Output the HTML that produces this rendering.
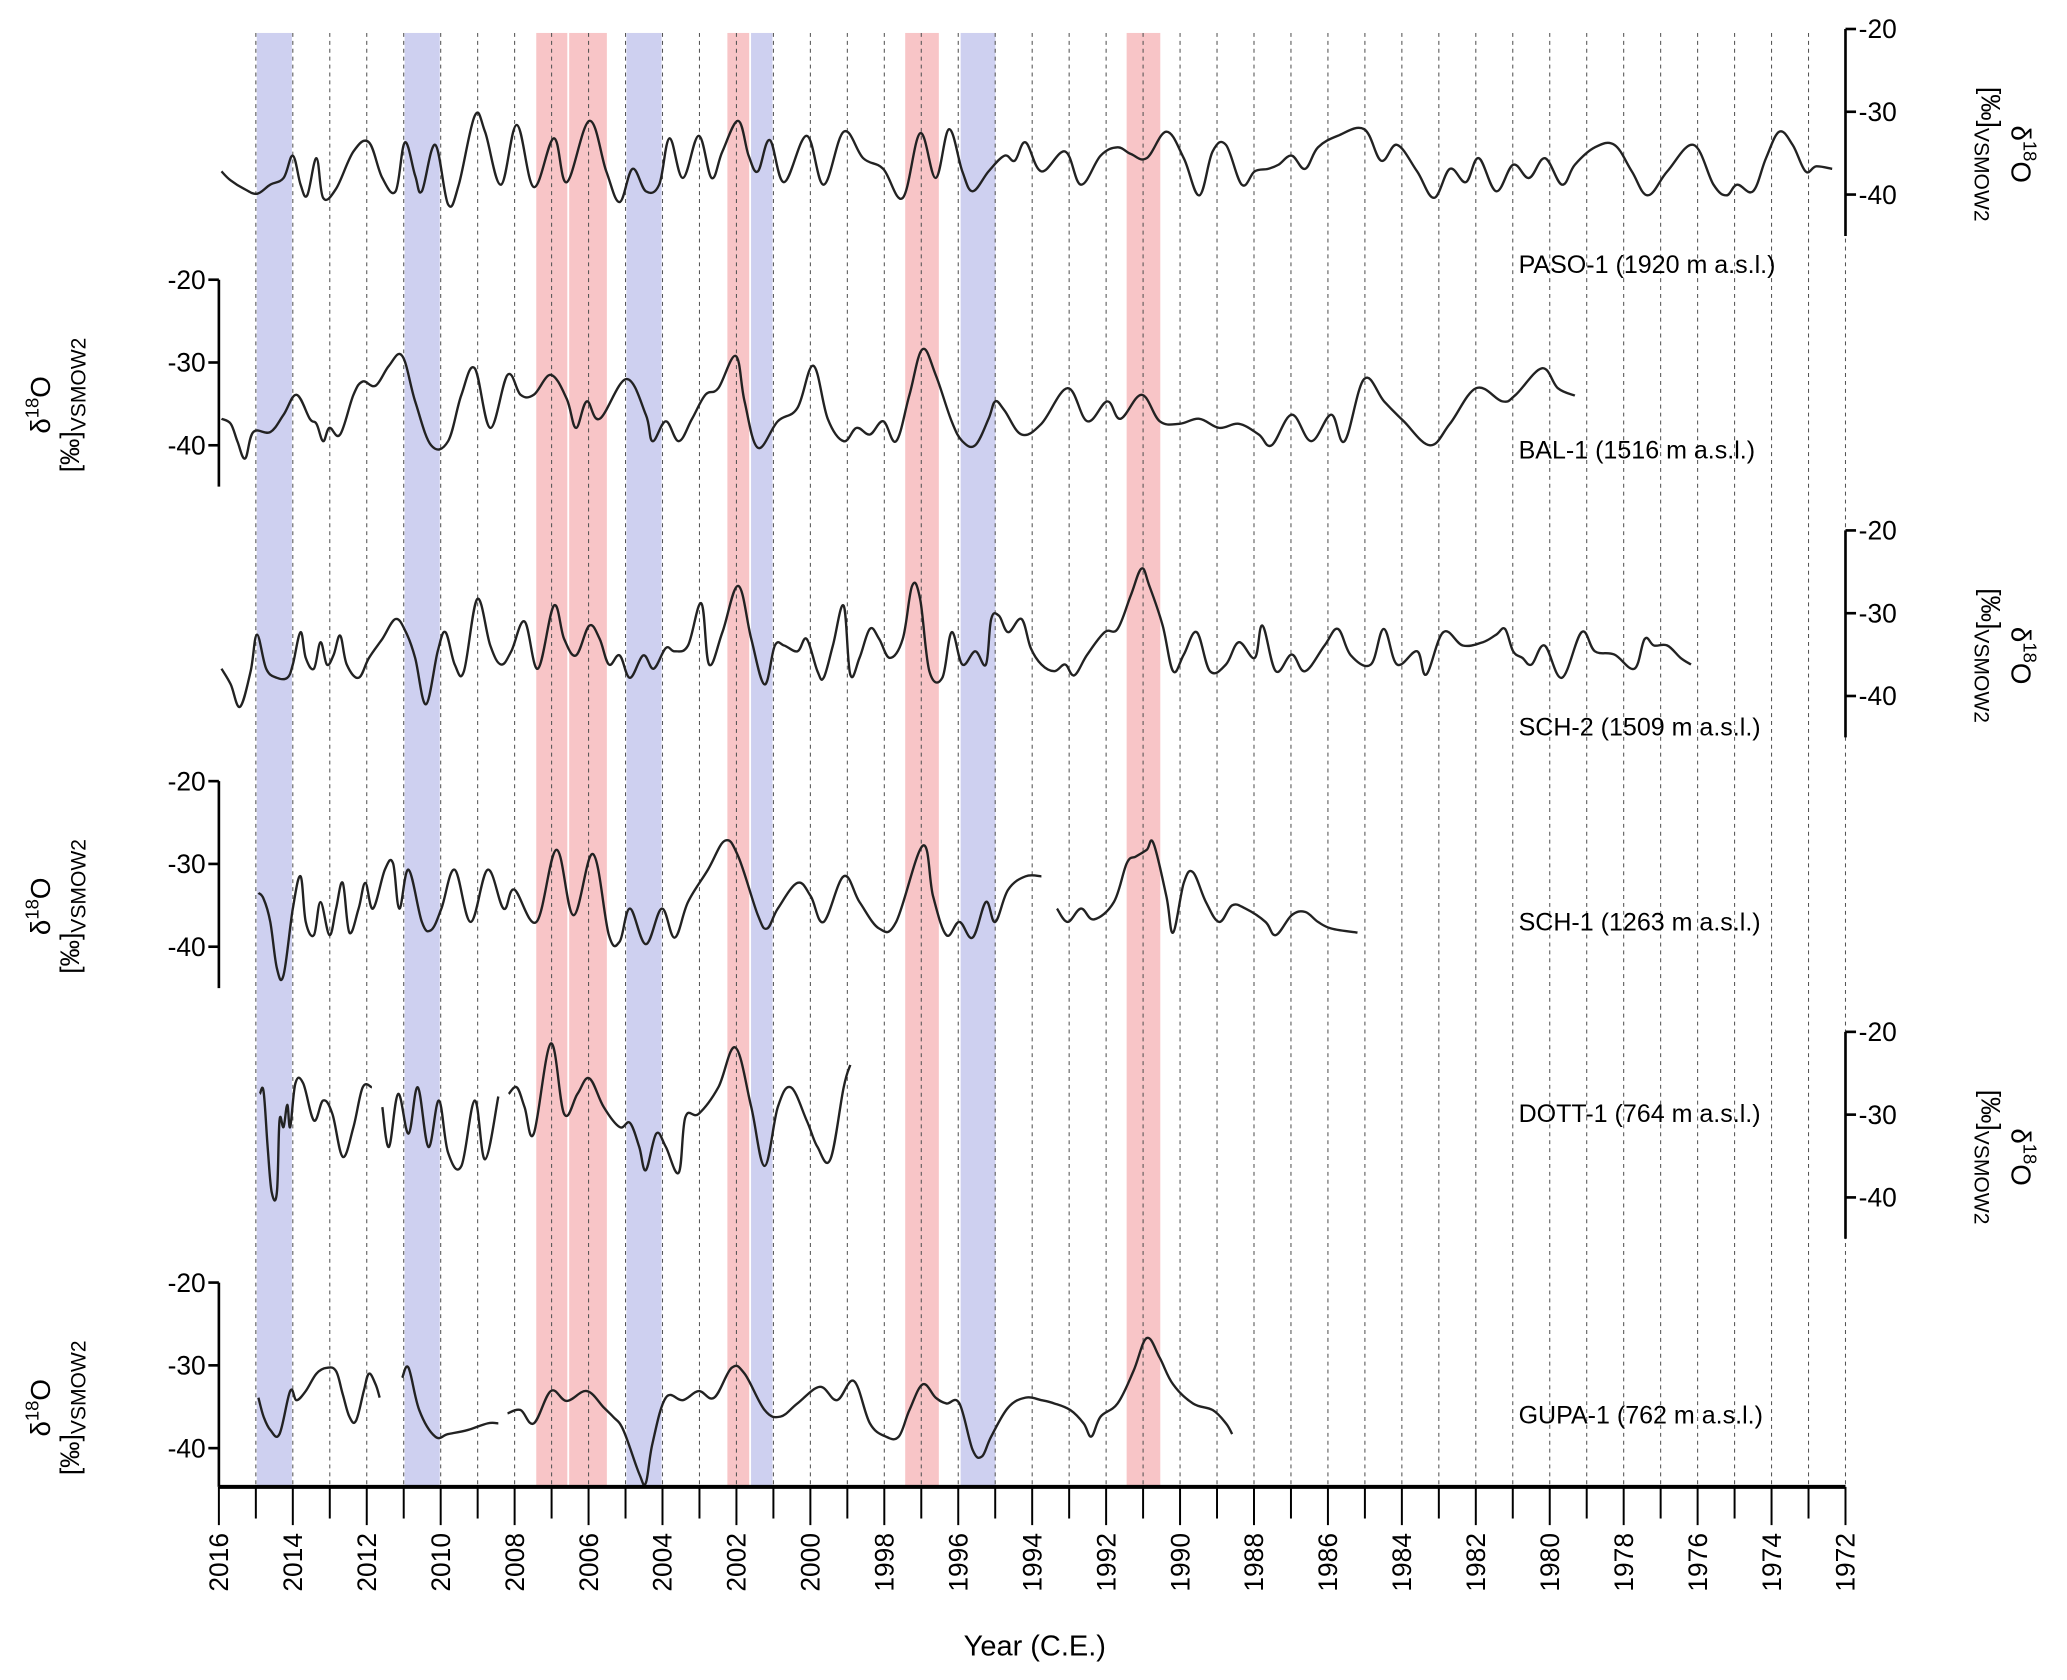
<!DOCTYPE html>
<html><head><meta charset="utf-8">
<style>
html,body{margin:0;padding:0;background:#fff;}
svg{display:block;font-family:"Liberation Sans",Arial,sans-serif;}
</style></head>
<body>
<svg id="chart" width="2067" height="1680" viewBox="0 0 1568 1274.5" xmlns="http://www.w3.org/2000/svg">
<g id="bands"></g>
<g id="grid"></g>
<g id="series"></g>
<g id="axes"></g>
<text x="785" y="1256" font-size="22" text-anchor="middle">Year (C.E.)</text>
</svg>
<script>
const NS="http://www.w3.org/2000/svg";
const bandStart=[2015.0,2011.0,2007.44,2006.55,2005.0,2002.27,2001.63,1997.46,1995.96,1991.47];
const bandEnd=[2014.0,2010.0,2006.55,2005.48,2004.0,2001.63,2001.0,1996.5,1994.97,1990.51];
const bandType=["cold","cold","warm","warm","cold","warm","cold","warm","cold","warm"];
const yearTicks=[2016,2014,2012,2010,2008,2006,2004,2002,2000,1998,1996,1994,1992,1990,1988,1986,1984,1982,1980,1978,1976,1974,1972];
const valueTicks=[-20,-30,-40];
const panelNames=["PASO-1 (1920 m a.s.l.)","BAL-1 (1516 m a.s.l.)","SCH-2 (1509 m a.s.l.)","SCH-1 (1263 m a.s.l.)","DOTT-1 (764 m a.s.l.)","GUPA-1 (762 m a.s.l.)"];
const panelSide=["right","left","right","left","right","left"];

const pasoYears=[2015.93,2015.68,2015.32,2014.97,2014.61,2014.25,2014.00,2013.79,2013.61,2013.36,2013.18,2012.83,2012.36,2011.94,2011.58,2011.22,2010.97,2010.69,2010.51,2010.15,2009.80,2009.51,2009.08,2008.80,2008.37,2007.94,2007.48,2006.94,2006.59,2005.98,2005.52,2005.16,2004.81,2004.45,2004.09,2003.81,2003.45,2003.02,2002.67,2002.38,2001.95,2001.67,2001.42,2001.10,2000.71,2000.10,1999.64,1999.10,1998.57,1998.03,1997.50,1997.03,1996.61,1996.25,1995.89,1995.61,1995.18,1994.75,1994.47,1994.18,1993.75,1993.11,1992.68,1992.15,1991.69,1991.33,1990.90,1990.37,1989.90,1989.48,1989.12,1988.76,1988.33,1987.98,1987.62,1987.34,1986.98,1986.62,1986.27,1985.73,1985.02,1984.56,1984.13,1983.59,1983.13,1982.70,1982.27,1981.92,1981.45,1980.99,1980.56,1980.13,1979.67,1979.32,1978.78,1978.25,1977.78,1977.35,1976.82,1976.11,1975.57,1975.22,1974.93,1974.50,1974.15,1973.79,1973.43,1973.08,1972.79,1972.36];
const pasoValues=[-37.2,-38.3,-39.3,-39.9,-38.8,-38.0,-35.3,-38.8,-40.1,-35.6,-40.4,-39.3,-34.8,-33.7,-38.0,-39.6,-33.7,-37.7,-39.6,-34.0,-41.2,-38.8,-30.5,-32.4,-38.8,-31.6,-39.1,-33.2,-38.5,-31.1,-37.2,-40.9,-36.9,-39.6,-38.8,-33.2,-38.0,-32.9,-38.0,-34.8,-31.1,-35.3,-37.2,-33.4,-38.5,-32.9,-38.8,-32.4,-35.6,-36.9,-40.4,-32.6,-38.0,-32.1,-37.2,-39.6,-37.2,-35.3,-35.9,-33.7,-37.2,-34.8,-38.8,-35.3,-34.3,-35.1,-35.6,-32.4,-35.6,-40.1,-34.8,-34.0,-38.8,-37.2,-36.9,-36.4,-35.3,-36.9,-34.3,-32.9,-32.1,-35.9,-34.0,-37.2,-40.4,-36.9,-38.5,-35.6,-39.6,-36.4,-38.0,-35.6,-38.8,-36.4,-34.3,-34.0,-37.2,-40.1,-37.2,-34.0,-38.8,-40.1,-38.8,-39.6,-35.6,-32.4,-34.0,-37.2,-36.6,-36.9];

const balYears=[2015.93,2015.68,2015.50,2015.29,2015.07,2014.61,2014.25,2013.90,2013.54,2013.36,2013.18,2013.01,2012.72,2012.36,2012.11,2011.76,2011.40,2011.04,2010.69,2010.26,2009.80,2009.44,2009.08,2008.66,2008.19,2007.84,2007.48,2007.02,2006.59,2006.34,2006.05,2005.70,2004.98,2004.45,2004.27,2003.91,2003.56,2003.20,2002.84,2002.49,2002.02,2001.78,2001.42,2000.88,2000.35,1999.92,1999.53,1999.10,1998.75,1998.39,1998.03,1997.68,1997.32,1996.97,1996.61,1996.18,1995.89,1995.54,1995.18,1995.00,1994.75,1994.29,1993.75,1993.04,1992.51,1991.97,1991.61,1991.04,1990.55,1990.01,1989.48,1988.94,1988.41,1987.87,1987.52,1986.98,1986.45,1985.91,1985.55,1985.02,1984.48,1983.95,1983.24,1982.70,1981.99,1981.28,1980.92,1980.21,1979.78,1979.32];
const balValues=[-36.8,-37.4,-39.5,-41.6,-38.4,-38.4,-36.3,-33.9,-36.8,-37.4,-39.5,-37.9,-38.7,-33.9,-32.3,-32.8,-30.4,-29.2,-34.7,-40.0,-39.5,-33.9,-30.7,-37.9,-31.5,-33.9,-33.9,-31.5,-34.4,-37.9,-34.7,-36.8,-32.0,-36.3,-39.5,-37.1,-39.5,-36.8,-33.9,-33.1,-29.2,-34.7,-40.3,-37.1,-35.5,-30.4,-36.8,-39.5,-37.9,-38.7,-37.1,-39.5,-33.9,-28.4,-31.5,-37.1,-39.5,-40.0,-36.8,-34.7,-35.8,-38.7,-37.4,-33.1,-37.1,-34.7,-36.8,-33.9,-37.1,-37.4,-36.8,-37.9,-37.4,-38.7,-40.0,-36.3,-39.5,-36.3,-39.5,-32.0,-34.7,-37.1,-40.0,-37.4,-33.1,-34.7,-33.9,-30.7,-33.1,-34.0];

const sch2Years=[2015.93,2015.68,2015.43,2015.14,2014.97,2014.72,2014.43,2014.15,2014.00,2013.79,2013.65,2013.43,2013.25,2013.08,2012.90,2012.72,2012.54,2012.22,2011.94,2011.58,2011.22,2010.94,2010.69,2010.40,2010.08,2009.87,2009.62,2009.37,2009.01,2008.66,2008.37,2008.09,2007.73,2007.37,2006.94,2006.66,2006.34,2005.98,2005.70,2005.45,2005.16,2004.88,2004.52,2004.24,2003.91,2003.67,2003.31,2002.95,2002.74,2002.38,2001.95,2001.60,2001.24,2000.96,2000.71,2000.35,2000.10,1999.81,1999.64,1999.39,1999.10,1998.92,1998.67,1998.39,1998.14,1997.85,1997.50,1997.25,1997.03,1996.78,1996.43,1996.18,1995.89,1995.54,1995.25,1995.11,1994.90,1994.65,1994.29,1994.04,1993.75,1993.40,1993.11,1992.86,1992.51,1992.04,1991.69,1991.33,1991.04,1990.83,1990.47,1990.19,1989.90,1989.55,1989.19,1988.76,1988.41,1987.98,1987.77,1987.41,1986.98,1986.62,1986.09,1985.73,1985.38,1984.84,1984.49,1984.13,1983.59,1983.34,1982.88,1982.35,1981.81,1981.45,1981.21,1980.99,1980.74,1980.49,1980.14,1979.67,1979.14,1978.78,1978.25,1977.71,1977.43,1977.18,1976.82,1976.46,1976.18];
const sch2Values=[-36.7,-38.6,-41.3,-37.0,-32.6,-36.7,-37.8,-37.8,-36.2,-32.3,-35.4,-36.7,-33.5,-36.2,-35.1,-32.7,-36.2,-37.8,-35.4,-33.1,-30.7,-32.3,-35.4,-41.0,-34.6,-32.3,-36.2,-37.0,-28.3,-33.9,-36.2,-34.6,-31.0,-36.7,-29.1,-33.1,-35.1,-31.5,-33.1,-36.2,-35.1,-37.8,-35.1,-36.7,-34.2,-34.6,-33.9,-28.8,-36.2,-32.3,-26.7,-33.1,-38.6,-33.9,-33.9,-34.6,-33.1,-37.0,-37.8,-33.9,-29.1,-37.4,-35.4,-31.9,-33.1,-35.4,-33.1,-26.7,-28.3,-37.0,-37.8,-32.3,-36.2,-34.6,-36.2,-30.7,-30.3,-32.3,-30.7,-34.2,-36.2,-37.0,-36.2,-37.5,-35.0,-32.3,-31.9,-27.8,-24.6,-26.7,-31.5,-37.0,-35.0,-32.3,-37.0,-36.2,-33.5,-35.4,-31.5,-37.0,-35.0,-37.0,-33.9,-31.9,-35.1,-36.2,-31.9,-36.2,-34.6,-37.4,-32.3,-33.9,-33.5,-32.6,-31.9,-34.6,-35.4,-36.2,-33.9,-37.8,-32.3,-34.6,-35.0,-36.7,-33.1,-33.9,-33.9,-35.4,-36.2];

const sch1Years=[2014.93,2014.79,2014.61,2014.43,2014.25,2014.00,2013.79,2013.65,2013.43,2013.25,2013.01,2012.83,2012.65,2012.47,2012.22,2012.04,2011.83,2011.51,2011.29,2011.12,2010.87,2010.51,2010.26,2009.98,2009.62,2009.19,2008.73,2008.30,2008.01,2007.41,2006.87,2006.41,2005.88,2005.45,2005.16,2004.88,2004.45,2004.02,2003.67,2003.31,2002.77,2002.31,2001.95,2001.42,2001.17,2000.88,2000.35,1999.99,1999.64,1999.10,1998.67,1998.14,1997.68,1996.96,1996.68,1996.32,1995.97,1995.61,1995.25,1995.00,1994.65,1994.18,1993.75,1993.55,1993.33,1993.04,1992.68,1992.33,1991.79,1991.44,1991.19,1990.90,1990.72,1990.37,1990.19,1989.90,1989.65,1989.30,1988.94,1988.59,1988.23,1987.69,1987.41,1986.98,1986.62,1986.27,1985.91,1985.20];
const sch1Values=[-33.5,-34.2,-37.0,-42.6,-43.4,-35.4,-31.5,-37.0,-38.6,-34.6,-38.6,-35.4,-32.3,-38.3,-35.4,-32.3,-35.4,-30.7,-29.9,-35.4,-30.7,-37.0,-38.0,-35.4,-30.7,-37.0,-30.7,-35.4,-33.1,-37.0,-28.3,-36.2,-28.8,-38.6,-39.4,-35.4,-39.7,-35.4,-38.9,-34.6,-30.7,-27.2,-29.1,-36.2,-37.8,-35.4,-32.3,-33.9,-37.0,-31.5,-34.6,-37.8,-37.0,-27.8,-33.9,-38.6,-37.0,-38.9,-34.6,-37.0,-33.1,-31.5,-31.5,null,-35.4,-37.0,-35.4,-36.7,-34.6,-29.9,-29.1,-28.3,-27.5,-33.9,-38.3,-32.3,-31.0,-34.6,-37.0,-35.0,-35.4,-37.0,-38.6,-36.2,-35.8,-37.0,-37.8,-38.3];

const dottYears=[2014.89,2014.79,2014.68,2014.57,2014.43,2014.36,2014.25,2014.15,2014.07,2013.93,2013.72,2013.43,2013.18,2012.93,2012.65,2012.36,2012.11,2011.86,2011.72,2011.58,2011.40,2011.15,2010.87,2010.62,2010.33,2010.05,2009.80,2009.44,2009.08,2008.80,2008.44,2008.30,2008.16,2007.94,2007.73,2007.48,2007.02,2006.66,2006.30,2005.98,2005.59,2005.16,2004.88,2004.63,2004.45,2004.17,2003.91,2003.56,2003.38,2003.02,2002.49,2002.03,2001.60,2001.24,2000.88,2000.53,2000.10,1999.81,1999.46,1999.10,1998.92];
const dottValues=[-27.5,-27.2,-33.9,-39.4,-39.4,-30.7,-31.5,-28.8,-31.5,-26.2,-26.2,-30.7,-28.3,-29.9,-35.1,-31.5,-26.7,-26.7,null,-29.1,-33.9,-27.5,-32.3,-26.7,-33.9,-28.3,-34.6,-36.2,-28.3,-35.4,-27.8,null,-27.5,-26.7,-29.1,-32.3,-21.4,-29.9,-27.5,-25.6,-29.1,-31.5,-31.0,-33.9,-36.7,-32.3,-33.9,-37.0,-30.3,-29.9,-26.7,-21.9,-29.1,-36.2,-29.1,-26.7,-30.7,-33.9,-35.4,-26.7,-24.0];

const gupaYears=[2014.93,2014.79,2014.61,2014.36,2014.07,2013.90,2013.65,2013.36,2013.08,2012.83,2012.65,2012.47,2012.29,2012.08,2011.94,2011.76,2011.65,2011.35,2011.04,2010.87,2010.58,2010.15,2009.80,2009.26,2008.73,2008.44,2008.30,2008.19,2007.84,2007.48,2007.02,2006.59,2006.05,2005.59,2005.34,2005.06,2004.63,2004.45,2004.27,2003.91,2003.45,2003.02,2002.60,2002.13,2001.78,2001.24,2000.81,2000.35,1999.74,1999.28,1998.82,1998.39,1997.96,1997.61,1997.32,1996.96,1996.61,1996.32,1995.97,1995.61,1995.36,1995.11,1994.65,1994.18,1993.75,1993.40,1992.97,1992.61,1992.40,1992.15,1991.69,1991.26,1990.90,1990.55,1990.19,1989.65,1989.12,1988.76,1988.59];
const gupaValues=[-33.9,-36.2,-37.8,-38.3,-33.1,-34.2,-33.1,-31.0,-30.3,-30.7,-33.5,-36.2,-36.7,-33.1,-31.0,-32.3,-33.9,null,-31.5,-30.3,-35.4,-38.6,-38.3,-37.8,-37.0,-37.0,null,-35.8,-35.4,-37.0,-33.1,-34.3,-33.1,-35.1,-36.2,-37.8,-43.1,-44.2,-39.4,-33.9,-34.2,-33.1,-33.9,-30.3,-31.0,-35.4,-36.2,-34.6,-32.6,-34.2,-31.9,-37.0,-38.6,-38.6,-35.4,-32.3,-33.9,-34.6,-34.6,-40.2,-41.0,-38.6,-35.1,-33.9,-34.2,-34.6,-35.4,-37.0,-38.6,-36.2,-34.6,-30.7,-26.7,-29.1,-32.3,-34.6,-35.4,-37.0,-38.3];

const seriesYears=[pasoYears,balYears,sch2Years,sch1Years,dottYears,gupaYears];
const seriesValues=[pasoValues,balValues,sch2Values,sch1Values,dottValues,gupaValues];
const seriesIds=["paso-1","bal-1","sch-2","sch-1","dott-1","gupa-1"];

// layout
const X0=166,X1=1400,YEAR0=2016,YEAR1=1972;
const PANEL_TOP=22,PANEL_STEP=190.2,UNIT=6.28;
const BOTTOM=1128;
function xOf(yr){return X0+(YEAR0-yr)*(X1-X0)/(YEAR0-YEAR1);}
function yOf(v,i){return PANEL_TOP+i*PANEL_STEP+(-20-v)*UNIT;}
function mk(tag,attrs,parent){const e=document.createElementNS(NS,tag);for(const k in attrs)e.setAttribute(k,attrs[k]);parent.appendChild(e);return e;}
function smoothPath(pts){
  if(pts.length<2)return '';
  let d='M'+pts[0][0].toFixed(1)+','+pts[0][1].toFixed(1);
  for(let i=0;i<pts.length-1;i++){
    const p0=pts[i-1]||pts[i],p1=pts[i],p2=pts[i+1],p3=pts[i+2]||p2;
    const t=0.18;
    const c1=[p1[0]+(p2[0]-p0[0])*t,p1[1]+(p2[1]-p0[1])*t];
    const c2=[p2[0]-(p3[0]-p1[0])*t,p2[1]-(p3[1]-p1[1])*t];
    d+='C'+c1[0].toFixed(1)+','+c1[1].toFixed(1)+' '+c2[0].toFixed(1)+','+c2[1].toFixed(1)+' '+p2[0].toFixed(1)+','+p2[1].toFixed(1);
  }
  return d;
}

const gB=document.getElementById('bands'),gG=document.getElementById('grid'),gS=document.getElementById('series'),gA=document.getElementById('axes');

for(let i=0;i<bandStart.length;i++){
  const a=xOf(bandStart[i]),b=xOf(bandEnd[i]);
  const r=mk('rect',{x:a+0.7,y:25,width:b-a-1.4,height:BOTTOM-25,fill:bandType[i]==='cold'?'#ced0f0':'#f8c5c7'},gB);
  
  
}
for(let yr=2015;yr>=1972;yr--){
  const x=xOf(yr);
  const l=mk('line',{x1:x,x2:x,y1:25,y2:BOTTOM,stroke:'#555','stroke-width':0.8,'stroke-dasharray':'3,3'},gG);
  
  
}
for(let s=0;s<seriesYears.length;s++){
  const ys=seriesYears[s],vs=seriesValues[s];let d='',seg=[];
  for(let k=0;k<=ys.length;k++){
    if(k===ys.length||vs[k]===null){d+=smoothPath(seg);seg=[];continue;}
    seg.push([xOf(ys[k]),yOf(vs[k],s)]);
  }
  const p=mk('path',{d:d,fill:'none',stroke:'#222','stroke-width':1.8,'stroke-linejoin':'round'},gS);
  
  
}
// panel axes
for(let i=0;i<6;i++){
  const right=panelSide[i]==='right';
  const ax=right?X1:X0;
  const top=yOf(-20,i),bot=(i===5)?BOTTOM:yOf(-45,i);
  const al=mk('line',{x1:ax,x2:ax,y1:top,y2:bot,stroke:'#000','stroke-width':2},gA);
  
  
  for(const v of valueTicks){
    const y=yOf(v,i);
    mk('line',{x1:ax,x2:right?ax+8:ax-8,y1:y,y2:y,stroke:'#000','stroke-width':2},gA);
    const t=mk('text',{x:right?ax+10:ax-10,y:y+7,'font-size':20,'text-anchor':right?'start':'end'},gA);
    t.textContent=v;
    
    
  }
  const cy=top+95;
  const t1=mk('text',{'font-size':21,'text-anchor':'middle',transform:right?`translate(1526,${cy}) rotate(90)`:`translate(38,${cy}) rotate(-90)`},gA);
  t1.innerHTML='δ<tspan font-size="14" dy="-9">18</tspan><tspan dy="9">O</tspan>';
  
  
  const t2=mk('text',{'font-size':20,'text-anchor':'middle',transform:right?`translate(1503,${cy}) rotate(90)`:`translate(60,${cy}) rotate(-90)`},gA);
  t2.innerHTML='[‰]<tspan font-size="16" dy="5">VSMOW2</tspan>';
  
  
  const lab=mk('text',{x:1152,y:[207,348,558,706,851,1080][i],'font-size':19},gA);
  lab.textContent=panelNames[i];
  
  
}
// x axis
const xa=mk('line',{x1:X0,x2:X1,y1:BOTTOM,y2:BOTTOM,stroke:'#000','stroke-width':3},gA);


for(let yr=2016;yr>=1972;yr--){
  const x=xOf(yr);
  mk('line',{x1:x,x2:x,y1:BOTTOM,y2:BOTTOM+(yr%2===0?29:24),stroke:'#000','stroke-width':1.5},gA);
}
for(const yr of yearTicks){
  const x=xOf(yr);
  const t=mk('text',{'font-size':20,'text-anchor':'end',transform:`translate(${x+7},1163) rotate(-90)`},gA);
  t.textContent=yr;
  
  
}
</script>
</body></html>
